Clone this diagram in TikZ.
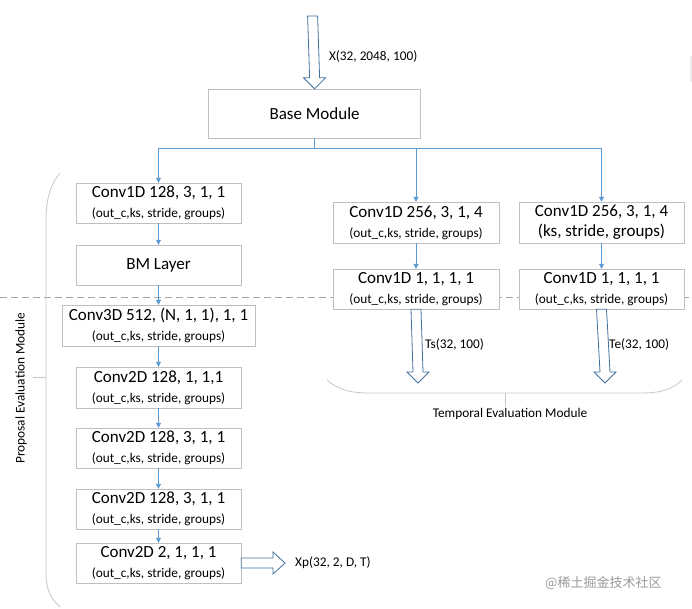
\documentclass[tikz,border=0pt]{standalone}
\usepackage{fontspec}
\setmainfont{Carlito}
\newfontfamily\cjkfont{Noto Sans CJK SC}
\usetikzlibrary{arrows.meta}
\usetikzlibrary{calc}

\definecolor{linkblue}{RGB}{91,155,213}
\definecolor{fatblue}{RGB}{65,113,156}
\definecolor{boxgray}{RGB}{191,191,191}

\newcommand{\boxfont}{\fontsize{17}{20}\selectfont}
\newcommand{\notefont}{\fontsize{13.3}{20}\selectfont}

% hollow block arrows, from a start point to a tip
\newcommand{\fatdown}[2]{%
  \draw[fat] ($(#1)+(-5,0)$) -- ($(#2)+(-5,-11)$) -- ($(#2)+(-11,-11)$) -- (#2)
    -- ($(#2)+(11,-11)$) -- ($(#2)+(5,-11)$) -- ($(#1)+(5,0)$) -- cycle;}
\newcommand{\fatright}[2]{%
  \draw[fat] ($(#1)+(0,-5)$) -- ($(#2)+(-12,-5)$) -- ($(#2)+(-12,-11)$) -- (#2)
    -- ($(#2)+(-12,11)$) -- ($(#2)+(-12,5)$) -- ($(#1)+(0,5)$) -- cycle;}

\begin{document}
\begin{tikzpicture}[x=1pt,y=-1pt,
  layer/.style={draw=boxgray,fill=white,align=center,inner sep=0pt,font=\notefont,
    minimum width=165,minimum height=40},
  link/.style={draw=linkblue,line width=0.8pt},
  tip/.style={-{Triangle[length=5pt,width=5pt]}},
  fat/.style={draw=fatblue,fill=white,line width=0.8pt},
  note/.style={font=\notefont,inner sep=0pt},
  brace/.style={draw=black!22,line width=0.8pt}]
\useasboundingbox (0,0) rectangle (692,608);
\draw[black!35,dash pattern=on 7pt off 4pt] (0,297) -- (692,297);

% backbone
\node[layer,minimum width=212,minimum height=49,font=\boxfont] (base) at (314.6,113.5) {Base Module};

% proposal branch
\node[layer] (c1d) at (158.5,203) {{\boxfont Conv1D 128, 3, 1, 1}\\(out\_c,ks, stride, groups)};
\node[layer,font=\boxfont] (bm) at (158.5,265) {BM Layer};
\node[layer,minimum width=193,minimum height=41] (c3d) at (158.5,325.5) {{\boxfont Conv3D 512, (N, 1, 1), 1, 1}\\(out\_c,ks, stride, groups)};
\node[layer,minimum height=41] (c2a) at (158.5,387.5) {{\boxfont Conv2D 128, 1, 1,1}\\(out\_c,ks, stride, groups)};
\node[layer] (c2b) at (158.5,448) {{\boxfont Conv2D 128, 3, 1, 1}\\(out\_c,ks, stride, groups)};
\node[layer] (c2c) at (158.5,509) {{\boxfont Conv2D 128, 3, 1, 1}\\(out\_c,ks, stride, groups)};
\node[layer] (c2d) at (158.5,563) {{\boxfont Conv2D 2, 1, 1, 1}\\(out\_c,ks, stride, groups)};

% temporal branch
\node[layer,minimum width=166,minimum height=41] (ts1) at (416,222.5) {{\boxfont Conv1D 256, 3, 1, 4}\\(out\_c,ks, stride, groups)};
\node[layer,minimum width=166] (ts2) at (416,289) {{\boxfont Conv1D 1, 1, 1, 1}\\(out\_c,ks, stride, groups)};
\node[layer,minimum height=41,font=\boxfont] (te1) at (601.5,222.5) {Conv1D 256, 3, 1, 4\\(ks, stride, groups)};
\node[layer] (te2) at (601.5,289) {{\boxfont Conv1D 1, 1, 1, 1}\\(out\_c,ks, stride, groups)};

% links
\draw[link] (base.south) -- ++(0,10) coordinate (split);
\foreach \n in {c1d,ts1,te1}
  \draw[link,tip] (split) -| (\n.north);
\foreach \a/\b in {c1d/bm,bm/c3d,c3d/c2a,c2a/c2b,c2b/c2c,c2c/c2d,ts1/ts2,te1/te2}
  \draw[link,tip] (\a) -- (\b);

% inputs and outputs
\coordinate (xin) at (312.6,16);
\coordinate (tsout) at (418,383);
\coordinate (teout) at (605,383);
\coordinate (xpout) at (285,563);
\fatdown{xin}{base.north}
\fatdown{ts2.south}{tsout}
\fatdown{te2.south}{teout}
\fatright{c2d.east}{xpout}
\node[note,anchor=west] (xlab) at (328.8,57) {X(32, 2048, 100)};
\node[note,anchor=west] (tslab) at (425,345) {Ts(32, 100)};
\node[note,anchor=west] (telab) at (609,345) {Te(32, 100)};
\node[note,anchor=west] (xplab) at (295,563) {Xp(32, 2, D, T)};

% module brackets
\draw[brace] (327,380) .. controls (340,391) and (352,393) .. (372,393) -- (640,393)
  .. controls (660,393) and (672,390) .. (682,380);
\draw[brace] (505,393) -- (505,406);
\node[note] (temlab) at (510,414) {Temporal Evaluation Module};
\draw[brace] (60,173) .. controls (50,185) and (46,200) .. (46,220) -- (46,575)
  .. controls (46,590) and (52,600) .. (60,607);
\draw[brace] (33,377) -- (46,377);
\node[note,rotate=90] (proplab) at (21,388) {Proposal Evaluation Module};
\draw[black!8,line width=2pt] (691,56) -- (691,82);

\node[font=\cjkfont\fontsize{13}{13}\selectfont,text=black!40,anchor=west,inner sep=0pt] (mark) at (545,583) {@稀土掘金技术社区};
\end{tikzpicture}
\end{document}
